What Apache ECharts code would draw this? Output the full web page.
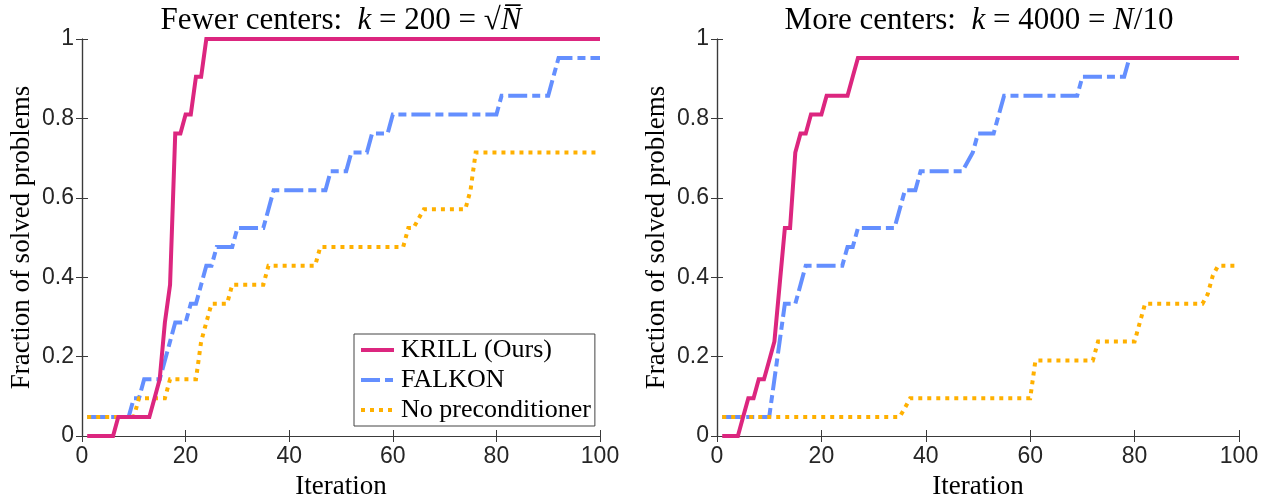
<!DOCTYPE html>
<html>
<head>
<meta charset="utf-8">
<script src="https://cdn.jsdelivr.net/npm/echarts@6/dist/echarts.min.js"></script>
<style>
  html, body { margin: 0; padding: 0; background: #fff; }
  #chart { width: 1273px; height: 503px; }
</style>
</head>
<body>
<div id="chart"></div>
<script>
// iteration / fraction breakpoints
var krillLeftX = [1, 6, 7, 13, 14, 15, 16, 17, 18, 19, 20, 21, 22, 23, 24, 100]
var krillLeftY = [0, 0, .048, .048, .095, .143, .286, .381, .762, .762, .81, .81, .905, .905, 1, 1]

var falkonLeftX = [1, 9, 10, 11, 12, 15, 16, 17, 18, 20, 21, 22, 23, 24, 25, 26, 29, 30, 35, 36, 37, 47, 48, 51, 52, 55, 56, 59, 60, 80, 81, 90, 91, 92, 100]
var falkonLeftY = [.048, .048, .095, .095, .143, .143, .19, .238, .286, .286, .333, .333, .381, .429, .429, .476, .476, .524, .524, .571, .619, .619, .667, .667, .714, .714, .762, .762, .81, .81, .857, .857, .905, .952, .952]

var noPreLeftX = [1, 10, 11, 16, 17, 22, 23, 24, 25, 28, 29, 35, 36, 45, 46, 62, 63, 64, 65, 66, 74, 75, 76, 100]
var noPreLeftY = [.048, .048, .095, .095, .143, .143, .238, .286, .333, .333, .381, .381, .429, .429, .476, .476, .524, .524, .548, .571, .571, .619, .714, .714]

var krillRightX = [1, 4, 5, 6, 7, 8, 9, 10, 11, 12, 13, 14, 15, 16, 17, 18, 20, 21, 25, 26, 27, 100]
var krillRightY = [0, 0, .048, .095, .095, .143, .143, .19, .238, .381, .524, .524, .714, .762, .762, .81, .81, .857, .857, .905, .952, .952]

var falkonRightX = [1, 10, 11, 12, 13, 15, 16, 17, 24, 25, 26, 27, 34, 35, 36, 38, 39, 47, 49, 50, 53, 54, 55, 69, 70, 78, 79, 100]
var falkonRightY = [.048, .048, .143, .238, .333, .333, .381, .429, .429, .476, .476, .524, .524, .571, .619, .619, .667, .667, .714, .762, .762, .81, .857, .857, .905, .905, .952, .952]

var noPreRightX = [1, 35, 36, 37, 60, 61, 72, 73, 80, 81, 82, 93, 94, 95, 96, 100]
var noPreRightY = [.048, .048, .071, .095, .095, .19, .19, .238, .238, .286, .333, .333, .357, .405, .429, .429]

var names = ['KRILL (Ours)', 'FALKON', 'No preconditioner']
var colors = ['#DC267F', '#648FFF', '#FFB000']
var xTicks = [0, 20, 40, 60, 80, 100]
var yTicks = [0, 0.2, 0.4, 0.6, 0.8, 1]

var serif = 'Liberation Serif'
var sans = 'Liberation Sans'
var axisColor = '#3a3a3a'

function pairs(xs, ys) {
  return xs.map(function (x, i) { return [x, ys[i]] })
}

function bottomX(grid) {
  return {
    gridIndex: grid, type: 'value', position: 'bottom',
    min: xTicks[0], max: xTicks[xTicks.length - 1], interval: 20,
    name: 'Iteration', nameLocation: 'middle', nameGap: 37,
    nameTextStyle: { fontFamily: serif, fontSize: 27, color: '#000' },
    axisLine: { show: true, lineStyle: { color: axisColor, width: 1.2 } },
    axisTick: { show: true, inside: true, length: 6, lineStyle: { color: axisColor } },
    axisLabel: { fontFamily: sans, fontSize: 23, color: '#262626', margin: 9 },
    splitLine: { show: false }
  }
}

function topX(grid) {
  return {
    gridIndex: grid, type: 'value', position: 'top',
    min: xTicks[0], max: xTicks[xTicks.length - 1], interval: 20,
    axisLine: { show: true, lineStyle: { color: axisColor, width: 1.2 } },
    axisTick: { show: true, inside: true, length: 6, lineStyle: { color: axisColor } },
    axisLabel: { show: false },
    splitLine: { show: false }
  }
}

function leftY(grid, gap) {
  return {
    gridIndex: grid, type: 'value', position: 'left',
    min: yTicks[0], max: yTicks[yTicks.length - 1], interval: 0.2,
    name: 'Fraction of solved problems', nameLocation: 'middle', nameGap: gap,
    nameTextStyle: { fontFamily: serif, fontSize: 27, color: '#000' },
    axisLine: { show: true, lineStyle: { color: axisColor, width: 1.2 } },
    axisTick: { show: true, inside: true, length: 6, lineStyle: { color: axisColor } },
    axisLabel: { fontFamily: sans, fontSize: 23, color: '#262626', margin: 8,
      formatter: function (v) { return String(+v.toFixed(1)) } },
    splitLine: { show: false }
  }
}

function rightY(grid) {
  return {
    gridIndex: grid, type: 'value', position: 'right',
    min: yTicks[0], max: yTicks[yTicks.length - 1], interval: 0.2,
    axisLine: { show: true, lineStyle: { color: axisColor, width: 1.2 } },
    axisTick: { show: true, inside: true, length: 6, lineStyle: { color: axisColor } },
    axisLabel: { show: false },
    splitLine: { show: false }
  }
}

var styles = [
  { width: 4, type: 'solid', z: 4 },
  { width: 4, type: [19, 5, 8, 5], z: 2 },
  { width: 4, type: [4, 5], z: 3 }
]

function makeSeries(k, data, axisIdx) {
  return {
    name: names[k], type: 'line', data: data,
    xAxisIndex: axisIdx, yAxisIndex: axisIdx,
    symbol: 'none', showSymbol: false, z: styles[k].z,
    color: colors[k],
    lineStyle: { color: colors[k], width: styles[k].width, type: styles[k].type, cap: 'butt', join: 'miter' },
    animation: false
  }
}

var titleRich = {
  r: { fontFamily: serif, fontSize: 31, fontWeight: 'normal', color: '#000' },
  i: { fontFamily: serif, fontSize: 31, fontWeight: 'normal', fontStyle: 'italic', color: '#000' }
}

var option = {
  backgroundColor: '#fff',
  animation: false,
  title: [{
    text: '{r|Fewer centers:  }{i|k}{r| = 200 = \u221A}{i|N\u0305}',
    left: 336, top: 0, textAlign: 'center',
    textStyle: { fontWeight: 'normal', rich: titleRich }
  }, {
    text: '{r|More centers:  }{i|k}{r| = 4000 = }{i|N}{r|/10}',
    left: 974, top: 0, textAlign: 'center',
    textStyle: { fontWeight: 'normal', rich: titleRich }
  }],
  legend: {
    data: names,
    orient: 'vertical',
    left: 354, top: 334,
    backgroundColor: '#fff',
    borderColor: '#444', borderWidth: 1,
    padding: [3, 4, 3, 5],
    itemGap: 4,
    itemWidth: 33, itemHeight: 14,
    itemStyle: { opacity: 0 },
    lineStyle: { width: 4 },
    textStyle: { fontFamily: serif, fontSize: 26, color: '#000', padding: [0, 0, 0, 2] }
  },
  grid: [
    { left: 82, top: 39, width: 518, height: 397, outerBoundsMode: 'none', containLabel: false },
    { left: 717, top: 39, width: 522, height: 397, outerBoundsMode: 'none', containLabel: false }
  ],
  xAxis: [bottomX(0), topX(0), bottomX(1), topX(1)],
  yAxis: [leftY(0, 47), rightY(0), leftY(1, 47), rightY(1)],
  series: [
    makeSeries(0, pairs(krillLeftX, krillLeftY), 0),
    makeSeries(1, pairs(falkonLeftX, falkonLeftY), 0),
    makeSeries(2, pairs(noPreLeftX, noPreLeftY), 0),
    makeSeries(0, pairs(krillRightX, krillRightY), 2),
    makeSeries(1, pairs(falkonRightX, falkonRightY), 2),
    makeSeries(2, pairs(noPreRightX, noPreRightY), 2)
  ]
}

var chart = echarts.init(document.getElementById('chart'), null, { renderer: 'canvas' })
chart.setOption(option)
</script>
</body>
</html>
